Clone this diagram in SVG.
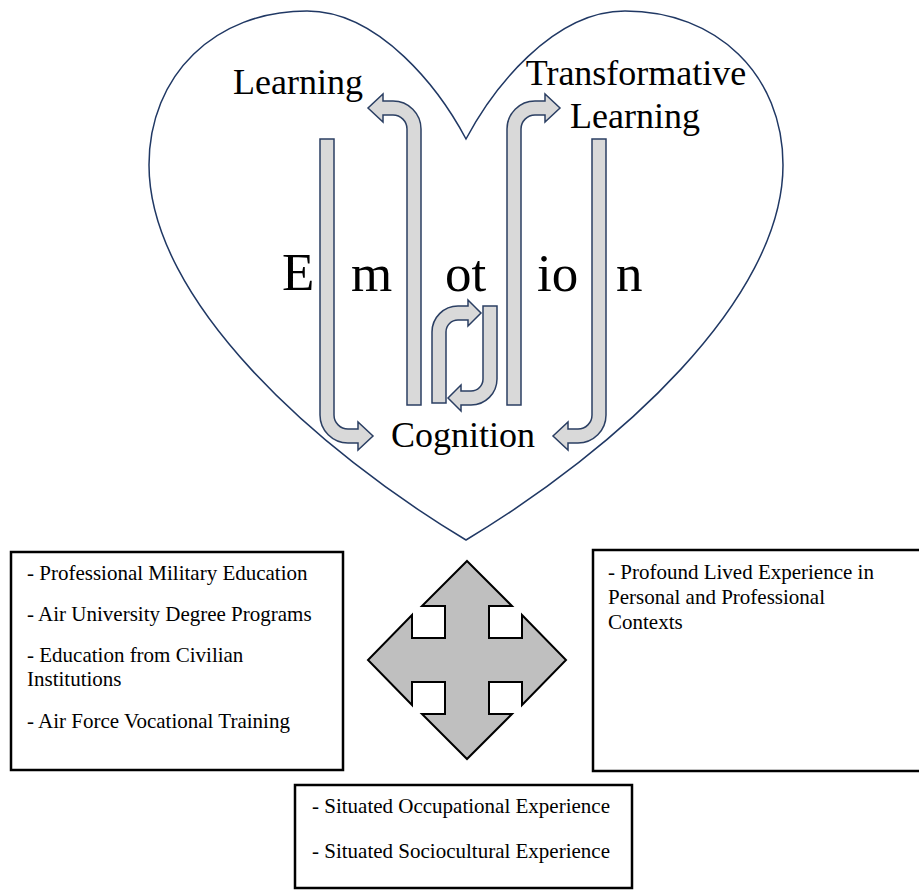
<svg xmlns="http://www.w3.org/2000/svg" width="919" height="891" viewBox="0 0 919 891">
  <style>
    .heart { fill: none; stroke: #203864; stroke-width: 1.5; }
    .flow { fill: #d9d9d9; stroke: #2b3f63; stroke-width: 1.5; stroke-linejoin: miter; }
    .cross { fill: #bfbfbf; stroke: #000; stroke-width: 2; stroke-linejoin: miter; }
    .box { fill: #fff; stroke: #000; stroke-width: 2.5; }
    text { font-family: 'Liberation Serif', 'DejaVu Serif', serif; fill: #000; }
    .big { font-size: 53px; }
    .label { font-size: 36px; }
    .item { font-size: 21px; }
  </style>

  <!-- heart outline -->
  <g id="heart">
    <path class="heart" d="M466,139 C440,90 380,11 307,11 C215,11 149,75 149,165 C149,300 316,450 466,540 C616,450 783,300 783,165 C783,75 717,11 625,11 C552,11 492,90 466,139 Z"/>
  </g>

  <!-- "Emotion" spelled across the flows -->
  <g id="emotion" font-family="Liberation Serif, serif">
    <text class="big" x="282" y="290">E</text>
    <text class="big" x="351" y="291">m</text>
    <text class="big" x="445" y="291">ot</text>
    <text class="big" x="537" y="291">io</text>
    <text class="big" x="616" y="291">n</text>
  </g>

  <g id="learning">
    <text class="label" x="233" y="94">Learning</text>
  </g>

  <g id="transformative-learning">
    <text class="label" x="636" y="85" text-anchor="middle">Transformative</text>
    <text class="label" x="635" y="128" text-anchor="middle">Learning</text>
  </g>

  <g id="cognition">
    <text class="label" x="391" y="447">Cognition</text>
  </g>

  <!-- bent flow arrows between the labels -->
  <g id="connectors">
    <path class="flow" d="M320,139 L334,139 L334,415 A14,14 0 0 0 348,429 L358,429 L358,422 L373,436 L358,450 L358,443 L348,443 A28,28 0 0 1 320,415 Z"/>
    <path class="flow" d="M606,139 L592,139 L592,415 A14,14 0 0 1 578,429 L568,429 L568,422 L553,436 L568,450 L568,443 L578,443 A28,28 0 0 0 606,415 Z"/>
    <path class="flow" d="M407,405 L421,405 L421,129 A28,28 0 0 0 393,101 L383,101 L383,94 L368,108 L383,122 L383,115 L393,115 A14,14 0 0 1 407,129 Z"/>
    <path class="flow" d="M521,405 L507,405 L507,129 A28,28 0 0 1 535,101 L545,101 L545,94 L560,108 L545,122 L545,115 L535,115 A14,14 0 0 0 521,129 Z"/>
    <path class="flow" d="M432,403 L446,403 L446,332 A12,12 0 0 1 458,320 L468,320 L468,326 L481,313 L468,300 L468,306 L458,306 A26,26 0 0 0 432,332 Z"/>
    <path class="flow" d="M483,306 L497,306 L497,379 A26,26 0 0 1 471,405 L461,405 L461,411 L448,398 L461,385 L461,391 L471,391 A12,12 0 0 0 483,379 Z"/>
    <!-- four-way arrow -->
    <polygon class="cross" points="467,561 512,606 489,606 489,638 522,638 522,615 566,660 522,705 522,682 489,682 489,714 512,714 467,759 422,714 445,714 445,682 412,682 412,705 368,660 412,615 412,638 445,638 445,606 422,606"/>
  </g>

  <g id="education-box">
    <rect class="box" x="11" y="552" width="332" height="218"/>
    <text class="item" x="27" y="580">- Professional Military Education</text>
    <text class="item" x="27" y="621">- Air University Degree Programs</text>
    <text class="item" x="27" y="662">- Education from Civilian</text>
    <text class="item" x="27" y="686">Institutions</text>
    <text class="item" x="27" y="728">- Air Force Vocational Training</text>
  </g>

  <g id="lived-experience-box">
    <rect class="box" x="593" y="550" width="340" height="221"/>
    <text class="item" x="608" y="579">- Profound Lived Experience in</text>
    <text class="item" x="608" y="604">Personal and Professional</text>
    <text class="item" x="608" y="629">Contexts</text>
  </g>

  <g id="situated-experience-box">
    <rect class="box" x="295" y="785" width="337" height="103"/>
    <text class="item" x="312" y="813">- Situated Occupational Experience</text>
    <text class="item" x="312" y="858">- Situated Sociocultural Experience</text>
  </g>
</svg>
